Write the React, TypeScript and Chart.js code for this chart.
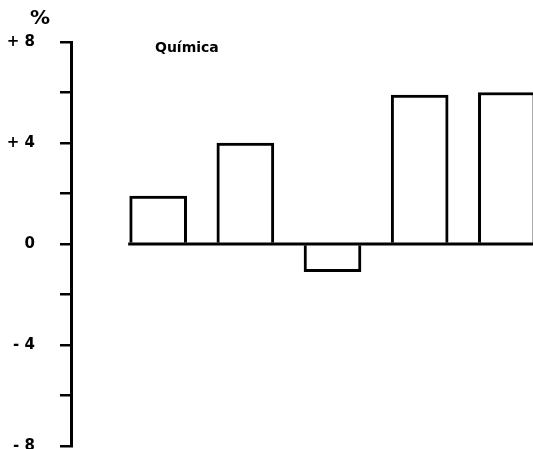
import React, { useEffect, useRef } from "react";
import { Chart, registerables } from "chart.js";

Chart.register(...registerables);

const categories = ["1", "2", "3", "4", "5"];
const values = [1.9, 4.0, -1.1, 5.9, 6.0];
const tickLabels: Record<string, string> = { "8": "+ 8", "4": "+ 4", "0": "0", "-4": "- 4", "-8": "- 8" };
const panelTitle = "Química";
const unitLabel = "%";

const FONT = "'DejaVu Sans', 'Liberation Sans', sans-serif";

const decor = {
  id: "decor",
  beforeDraw(chart: any) {
    const ctx = chart.ctx;
    ctx.save();
    ctx.fillStyle = "#fff";
    ctx.fillRect(0, 0, chart.width, chart.height);
    ctx.restore();
  },
  afterDatasetsDraw(chart: any) {
    const ctx = chart.ctx;
    const y = chart.scales.y;
    const meta = chart.getDatasetMeta(0);
    const first = meta.data[0] as any;
    const x0 = first.x - first.width / 2 - 1.5;
    const yp = y.getPixelForValue(0);
    ctx.save();
    ctx.strokeStyle = "#000";
    ctx.lineWidth = 3;
    ctx.beginPath();
    ctx.moveTo(x0, yp);
    ctx.lineTo(chart.chartArea.right, yp);
    ctx.stroke();
    ctx.fillStyle = "#000";
    ctx.font = `bold 14px ${FONT}`;
    ctx.textBaseline = "top";
    ctx.textAlign = "left";
    ctx.fillText(panelTitle, chart.chartArea.left + 84, chart.chartArea.top - 1);
    ctx.font = `bold 20px ${FONT}`;
    ctx.fillText(unitLabel, chart.chartArea.left - 41, chart.chartArea.top - 33);
    ctx.restore();
  },
};

export default function App() {
  const ref = useRef<HTMLCanvasElement | null>(null);
  useEffect(() => {
    if (!ref.current) return;
    const chart = new Chart(ref.current, {
      type: "bar",
      data: {
        datasets: [
          {
            data: values.map((v, i) => ({ x: i + 1, y: v })),
            backgroundColor: "#fff",
            borderColor: "#000",
            borderWidth: 3,
            borderSkipped: "start",
            barThickness: 57,
          } as any,
        ],
        labels: categories,
      },
      options: {
        animation: false,
        responsive: true,
        maintainAspectRatio: false,
        devicePixelRatio: 1,
        layout: { padding: { top: 42, bottom: 3, left: 0, right: 0 } },
        plugins: { legend: { display: false }, tooltip: { enabled: false } },
        scales: {
          x: {
            type: "linear",
            min: 0,
            max: 5.3,
            display: false,
            offset: false,
          },
          y: {
            min: -8,
            max: 8,
            afterFit(scale: any) {
              scale.width = 71;
              scale.paddingTop = 0;
              scale.paddingBottom = 0;
            },
            border: { display: true, color: "#000", width: 3 },
            grid: {
              drawOnChartArea: false,
              drawTicks: true,
              tickLength: 11,
              color: "#000",
              lineWidth: 2.5,
            },
            ticks: {
              stepSize: 2,
              padding: 25,
              color: "#000",
              font: { family: FONT, size: 15, weight: "bold" },
              callback: (v: any) => tickLabels[String(v)] ?? "",
            },
          },
        },
      } as any,
      plugins: [decor],
    });
    return () => chart.destroy();
  }, []);
  return (
    <div style={{ position: "absolute", left: 0, top: 0, width: 533, height: 449, background: "#fff" }}>
      <canvas ref={ref} />
    </div>
  );
}
